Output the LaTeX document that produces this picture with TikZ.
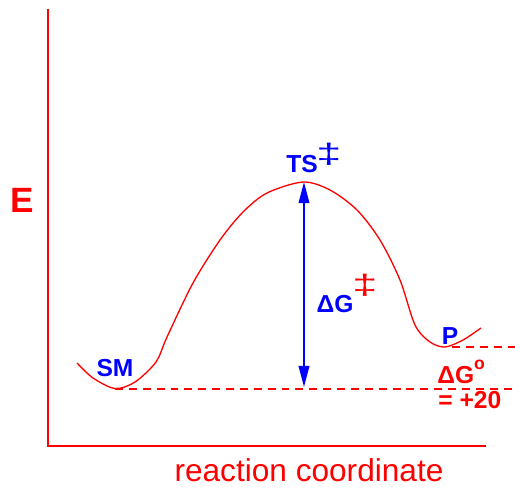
\documentclass[tikz,border=0pt]{standalone}
\usepackage{fontspec}
\setmainfont{Liberation Sans}
\usetikzlibrary{arrows.meta}
\tikzset{
 lbl/.style={text=blue,font=\bfseries\fontsize{14}{14}\selectfont,inner sep=0pt},
 rlbl/.style={text=red,font=\bfseries\fontsize{14}{14}\selectfont,inner sep=0pt},
 ddag/.style={font=\fontsize{16}{16}\selectfont,inner sep=0pt},
 lvl/.style={red,line width=.9pt,dash pattern=on 4.5pt off 3.4pt}
}
\begin{document}
\begin{tikzpicture}[x=.02cm,y=-.02cm]
 \useasboundingbox (0,0) rectangle (515,488);
 \draw[red,line width=1.4pt] (48,9)--(48,446)--(486,446);
 \node[text=red,font=\bfseries\fontsize{20}{20}\selectfont,inner sep=0pt] (E) at (22.5,200) {E};
 \node[text=red,font=\fontsize{18}{18}\selectfont,inner sep=0pt,anchor=base] (xlab) at (309,481) {reaction coordinate};
 % energy profile
 \draw[red,line width=.75pt,smooth] plot coordinates {(77,363)(93,378)(115,388.5)(135,382)(156,362)(167,337)(193,283)(220,240)(243,212)(267,193)(303,182)(330,190)(357,210)(380,240)(400,280)(415,325)(430,342)(445,347)(463,340)(481,328)};
 \coordinate (smmin) at (115,389); \coordinate (pmin) at (452,347);
 \coordinate (tsmax) at (304,182); \coordinate (smlvl) at (304,387);
 \draw[lvl] (smmin)--(515,389);
 \draw[lvl] (pmin)--(515,347);
 \draw[blue,line width=1.1pt,{Triangle[length=12pt,width=6pt]}-{Triangle[length=12pt,width=6pt]}] (tsmax)--(smlvl);
 \node[lbl,anchor=base] (ts) at (302,172) {TS};
 \node[ddag,text=blue] (tsdd) at (329,154) {\scalebox{1.6}[1]{‡}};
 \node[lbl,anchor=base] (sm) at (115,376) {SM};
 \node[lbl,anchor=base] (p) at (450,344) {P};
 \node[lbl,anchor=base] (dg) at (335,312) {ΔG};
 \node[ddag,text=red] (dgdd) at (365,285) {\scalebox{1.6}[1]{‡}};
 \node[rlbl,anchor=base west] (dgo) at (437,383) {ΔG\raisebox{.55em}{\fontsize{10}{10}\selectfont o}};
 \node[rlbl,anchor=base west] (dgval) at (438,408) {= +20};
\end{tikzpicture}
\end{document}
